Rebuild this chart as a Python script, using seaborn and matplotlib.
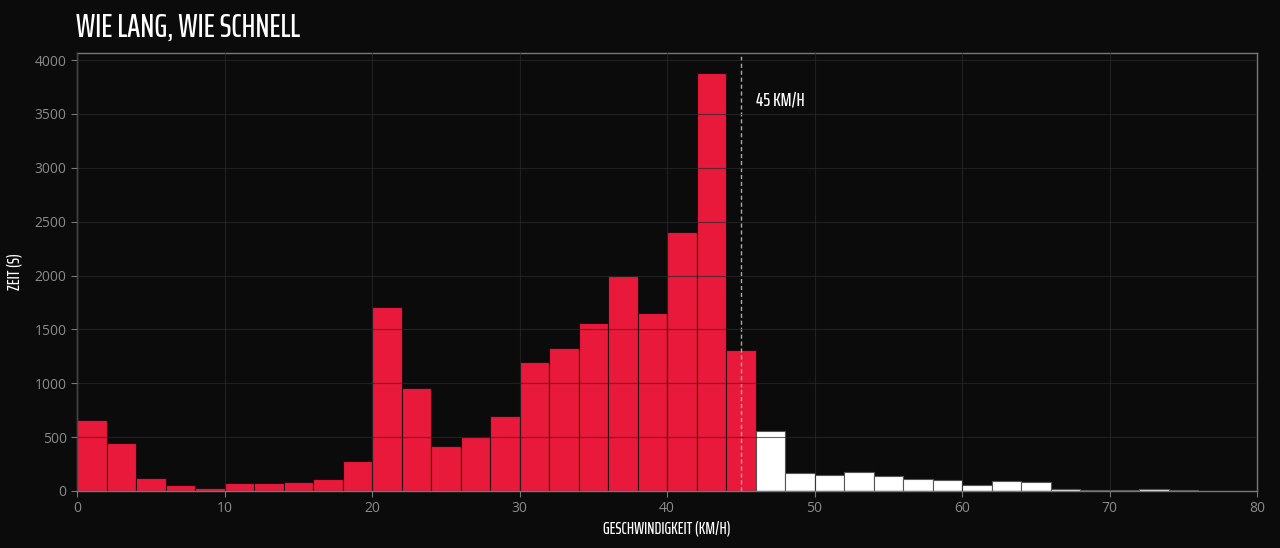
import matplotlib
matplotlib.use("Agg")
import matplotlib.pyplot as plt
from matplotlib import font_manager
import seaborn as sns
import pandas as pd

# Data: time (s) spent per 2 km/h speed bin
bin_edges = list(range(0, 82, 2))
seconds = [660, 445, 118, 56, 31, 77, 77, 84, 111, 282,
           1705, 955, 418, 505, 700, 1195, 1330, 1560, 2000, 1655,
           2400, 3875, 1310, 555, 167, 148, 173, 139, 111, 99,
           53, 93, 81, 19, 6, 6, 15, 6, 0, 0]
limit_kmh = 45
title = "WIE LANG, WIE SCHNELL"
xlabel = "GESCHWINDIGKEIT (KM/H)"
ylabel = "ZEIT (S)"
limit_label = "45 KM/H"

BG = "#0b0b0b"
RED = "#e8193b"
WHITE = "#ffffff"


def find_font(*names):
    files = {f.fname.split("/")[-1]: f.fname for f in font_manager.fontManager.ttflist}
    for n in names:
        if n in files:
            return font_manager.FontProperties(fname=files[n])
    return font_manager.FontProperties(family="DejaVu Sans")


# condensed display face for title and labels
COND = find_font("SairaExtraCondensed-Medium.ttf", "BarlowCondensed-Medium.ttf",
                 "RobotoCondensed-Regular.ttf", "DejaVuSansCondensed.ttf")

df = pd.DataFrame({
    "speed": [e + 1 for e in bin_edges[:-1]],
    "seconds": seconds,
})
df["fast"] = df["speed"] > 46

sns.set_style("dark")
plt.rcParams["font.family"] = ["Open Sans", "DejaVu Sans"]

fig = plt.figure(figsize=(12.8, 5.48), dpi=100, facecolor=BG)
ax = fig.add_axes([77 / 1280, 1 - 491 / 548, 1180 / 1280, 438 / 548])
ax.set_facecolor(BG)

sns.histplot(data=df[~df["fast"]], x="speed", weights="seconds", bins=bin_edges,
             color=RED, alpha=1, edgecolor="#2a0a10", linewidth=0.8, ax=ax)
sns.histplot(data=df[df["fast"]], x="speed", weights="seconds", bins=bin_edges,
             color=WHITE, alpha=1, edgecolor="#555555", linewidth=0.8, ax=ax)

ax.set_xlim(0, 80)
ax.set_ylim(0, 4065)
ax.set_xticks(range(0, 81, 10))
ax.set_yticks(range(0, 4001, 500))

ax.set_axisbelow(False)
ax.grid(True, color="#2a2a2a", linewidth=0.8, alpha=0.7)

ax.axvline(limit_kmh, color="#aaaaaa", linestyle=(0, (3, 2)), linewidth=1)
lbl = ax.text(limit_kmh + 1, 3620, limit_label, color="white",
              fontproperties=COND, va="center", ha="left")
lbl.set_fontsize(13.5)

for s in ax.spines.values():
    s.set_visible(True)
    s.set_color("#777777")
    s.set_linewidth(1)

ax.tick_params(colors="#777777", labelcolor="#8a8a8a", labelsize=10,
               length=4, width=0.8, bottom=True, left=True)

ax.set_xlabel(xlabel, color="white", fontproperties=COND, labelpad=3)
ax.xaxis.label.set_fontsize(12)
ax.set_ylabel(ylabel, color="white", fontproperties=COND, labelpad=9)
ax.yaxis.label.set_fontsize(12)
t = fig.text(76 / 1280, 1 - 28 / 548, title, color="white",
             fontproperties=COND, va="center", ha="left")
t.set_fontsize(23)

fig.savefig("out.png", dpi=100, facecolor=BG)
